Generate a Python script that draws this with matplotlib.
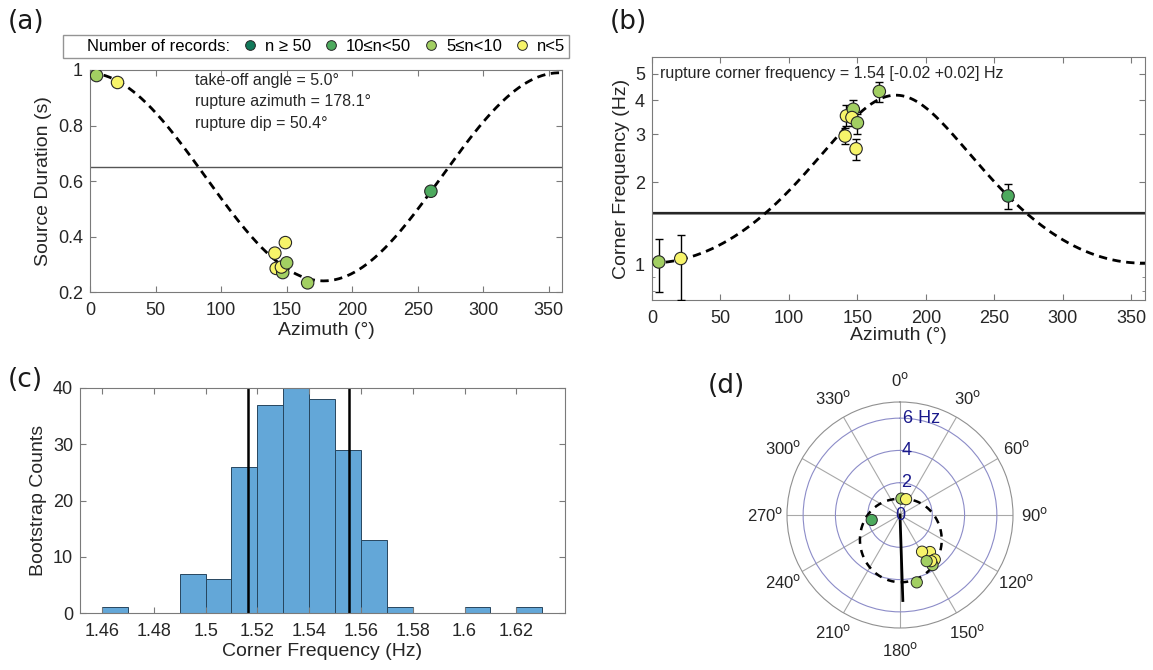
import numpy as np
import matplotlib
matplotlib.use("Agg")
import matplotlib.pyplot as plt
from matplotlib.lines import Line2D

plt.rcParams["font.family"] = ["Liberation Sans", "DejaVu Sans"]
plt.rcParams["mathtext.fontset"] = "dejavusans"

# station measurements
azimuth = [5, 21, 141, 142, 147, 146, 149, 150, 166, 260]
duration = [0.98, 0.955, 0.34, 0.285, 0.27, 0.29, 0.378, 0.305, 0.233, 0.563]
corner_freq = [1.02, 1.05, 2.95, 3.5, 3.7, 3.45, 2.65, 3.3, 4.3, 1.78]
cf_low = [0.79, 0.74, 2.75, 3.2, 3.45, 3.2, 2.42, 3.0, 3.95, 1.6]
cf_high = [1.24, 1.28, 3.15, 3.85, 4.0, 3.7, 2.87, 3.55, 4.65, 1.97]
# 0: n>=50, 1: 10<=n<50, 2: 5<=n<10, 3: n<5
record_class = [2, 3, 3, 3, 2, 3, 3, 2, 2, 1]
class_labels = ["n \u2265 50", "10\u2264n<50", "5\u2264n<10", "n<5"]
class_colors = ["#11795a", "#4daa5e", "#a2cf62", "#f7f46a"]

# directivity fit
takeoff_angle = 5.0
rupture_azimuth = 178.1
rupture_dip = 50.4
rupture_fc = 1.54
rupture_fc_err = (0.02, 0.02)
duration_min, duration_max = 0.24, 0.99
rupture_arrow_len = 5.3

# bootstrap histogram
hist_edges = np.round(np.arange(1.46, 1.6301, 0.01), 2)
hist_counts = [1, 0, 0, 7, 6, 26, 37, 40, 38, 29, 13, 1, 0, 0, 1, 0, 1]
ci_bounds = [1.5165, 1.5553]

W, H = 1153, 670
fig = plt.figure(figsize=(W / 100, H / 100), dpi=100)


def rect(x0, y0, x1, y1):
    return [x0 / W, 1 - y1 / H, (x1 - x0) / W, (y1 - y0) / H]


def matlab_style(ax):
    for s in ax.spines.values():
        s.set_color("#7a7a7a")
        s.set_linewidth(0.8)
    ax.tick_params(direction="in", top=True, right=True, length=4, width=0.8,
                   color="#7a7a7a", labelsize=13, labelcolor="#262626")
    ax.tick_params(axis="x", pad=7)
    ax.tick_params(axis="y", pad=5)


colors = [class_colors[c] for c in record_class]
phi = np.linspace(0, 360, 361)
mid = (duration_max + duration_min) / 2
amp = (duration_max - duration_min) / 2
model_dur = mid - amp * np.cos(np.radians(phi - rupture_azimuth))
model_fc = 1 / model_dur
dash = (0, (3, 2))

# (a) source duration vs azimuth
ax_a = fig.add_axes(rect(90, 70, 562, 292))
matlab_style(ax_a)
ax_a.plot(phi, model_dur, color="k", lw=2, linestyle=dash, zorder=2)
ax_a.axhline(1 / rupture_fc, color="#555555", lw=1, zorder=1)
ax_a.scatter(azimuth, duration, s=80, c=colors, edgecolors="#262626",
             linewidths=0.8, zorder=3)
ax_a.set_xlim(0, 360)
ax_a.set_ylim(0.2, 1)
ax_a.set_xticks(range(0, 351, 50))
ax_a.set_yticks([0.2, 0.4, 0.6, 0.8, 1])
ax_a.set_yticklabels(["0.2", "0.4", "0.6", "0.8", "1"])
ax_a.set_xlabel("Azimuth (\u00b0)", fontsize=14, color="#262626", labelpad=2)
ax_a.set_ylabel("Source Duration (s)", fontsize=14, color="#262626")
for i, line in enumerate([f"take-off angle = {takeoff_angle:.1f}\u00b0",
                          f"rupture azimuth = {rupture_azimuth:.1f}\u00b0",
                          f"rupture dip = {rupture_dip:.1f}\u00b0"]):
    ax_a.text(80, 0.963 - 0.078 * i, line, fontsize=11.5, va="center",
              color="#262626")

handles = [Line2D([], [], linestyle="none", label="Number of records:")]
for lab, col in zip(class_labels, class_colors):
    handles.append(Line2D([], [], linestyle="none", marker="o", markersize=7,
                          markerfacecolor=col, markeredgecolor="#262626",
                          markeredgewidth=0.7, label=lab))
fig.legend(handles=handles, loc="center", ncol=5, fontsize=12,
           bbox_to_anchor=(316 / W, 1 - 46.5 / H), frameon=True, fancybox=False,
           edgecolor="#7a7a7a", handlelength=0.6, handletextpad=0.6,
           columnspacing=0.9, borderpad=0.25, borderaxespad=0)

# (b) corner frequency vs azimuth
ax_b = fig.add_axes(rect(652, 57, 1145, 300))
matlab_style(ax_b)
ax_b.set_yscale("log")
ax_b.plot(phi, model_fc, color="k", lw=2, linestyle=dash, zorder=2)
ax_b.axhspan(rupture_fc - rupture_fc_err[0], rupture_fc + rupture_fc_err[1],
             color="#9a9a9a", lw=0, zorder=1)
ax_b.axhline(rupture_fc, color="#262626", lw=1.6, zorder=1)
yerr = [np.subtract(corner_freq, cf_low), np.subtract(cf_high, corner_freq)]
ax_b.errorbar(azimuth, corner_freq, yerr=yerr, fmt="none", ecolor="k",
              elinewidth=1, capsize=3, capthick=1, zorder=3)
ax_b.scatter(azimuth, corner_freq, s=80, c=colors, edgecolors="#262626",
             linewidths=0.8, zorder=4)
ax_b.set_xlim(0, 360)
ax_b.set_ylim(0.74, 5.75)
ax_b.set_xticks(range(0, 351, 50))
ax_b.set_yticks([1, 2, 3, 4, 5])
ax_b.set_yticklabels(["1", "2", "3", "4", "5"])
ax_b.set_yticks([0.8, 0.9], minor=True)
ax_b.yaxis.set_minor_formatter(plt.NullFormatter())
ax_b.tick_params(which="minor", direction="in", right=True, length=2,
                 color="#7a7a7a")
ax_b.set_xlabel("Azimuth (\u00b0)", fontsize=14, color="#262626", labelpad=0)
ax_b.set_ylabel("Corner Frequency (Hz)", fontsize=14, color="#262626")
ax_b.text(6, 5.0, f"rupture corner frequency = {rupture_fc:.2f} "
          f"[-{rupture_fc_err[0]:.2f} +{rupture_fc_err[1]:.2f}] Hz",
          fontsize=11.5, va="center", color="#262626")

# (c) bootstrap distribution
ax_c = fig.add_axes(rect(80, 388, 565, 613))
matlab_style(ax_c)
ax_c.bar(hist_edges[:-1], hist_counts, width=0.01, align="edge",
         color="#63a7d8", edgecolor="#27465f", linewidth=0.7)
for b in ci_bounds:
    ax_c.axvline(b, color="k", lw=1.8)
ax_c.set_xlim(1.4515, 1.6388)
ax_c.set_ylim(0, 40)
xt = np.round(np.arange(1.46, 1.621, 0.02), 2)
ax_c.set_xticks(xt)
ax_c.set_xticklabels([f"{v:g}" for v in xt])
ax_c.set_yticks(range(0, 41, 10))
ax_c.set_xlabel("Corner Frequency (Hz)", fontsize=14, color="#262626",
                labelpad=2)
ax_c.set_ylabel("Bootstrap Counts", fontsize=14, color="#262626")

# (d) polar view of corner frequency
ax_d = fig.add_axes(rect(787, 402, 1013, 628), projection="polar")
ax_d.set_theta_zero_location("N")
ax_d.set_theta_direction(-1)
ax_d.set_rlim(0, 7)
ax_d.set_rticks([2, 4, 6])
ax_d.set_yticklabels([])
ax_d.yaxis.grid(True, color="#8c8cc8", lw=0.8)
ax_d.xaxis.grid(True, color="#a8a8a8", lw=0.8)
ax_d.spines["polar"].set_color("#909090")
ax_d.spines["polar"].set_linewidth(0.8)
ax_d.set_thetagrids(range(0, 360, 30),
                    labels=[f"{a}$^{{\\mathrm{{o}}}}$" for a in range(0, 360, 30)],
                    fontsize=12, color="#262626")
ax_d.tick_params(axis="x", pad=5)
log_mid = (np.log(1 / duration_min) + np.log(1 / duration_max)) / 2
log_amp = (np.log(1 / duration_min) - np.log(1 / duration_max)) / 2
polar_fc = np.exp(log_mid + log_amp * np.cos(np.radians(phi - rupture_azimuth)))
ax_d.plot(np.radians(phi), polar_fc, color="k", lw=1.8, linestyle=(0, (3, 2.5)))
ax_d.plot([np.radians(rupture_azimuth)] * 2, [0, rupture_arrow_len],
          color="k", lw=2)
ax_d.scatter(np.radians(azimuth), corner_freq, s=65, c=colors,
             edgecolors="#262626", linewidths=0.7, zorder=3)
for r, lab in zip([0, 2, 4, 6], ["0", "2", "4", "6 Hz"]):
    if r == 0:
        ax_d.text(0, 0, lab, ha="center", va="center", fontsize=13,
                  color="#1a1a8c", zorder=4)
    else:
        ax_d.text(np.radians(1.5), r, lab, ha="left", va="center",
                  fontsize=13, color="#1a1a8c", zorder=4)

for lab, x, y in [("(a)", 8, 22), ("(b)", 610, 22), ("(c)", 8, 380),
                  ("(d)", 708, 386)]:
    fig.text(x / W, 1 - y / H, lab, fontsize=19, family="DejaVu Sans",
             va="center", ha="left", color="#1a1a1a")

fig.savefig("out.png", dpi=100)
